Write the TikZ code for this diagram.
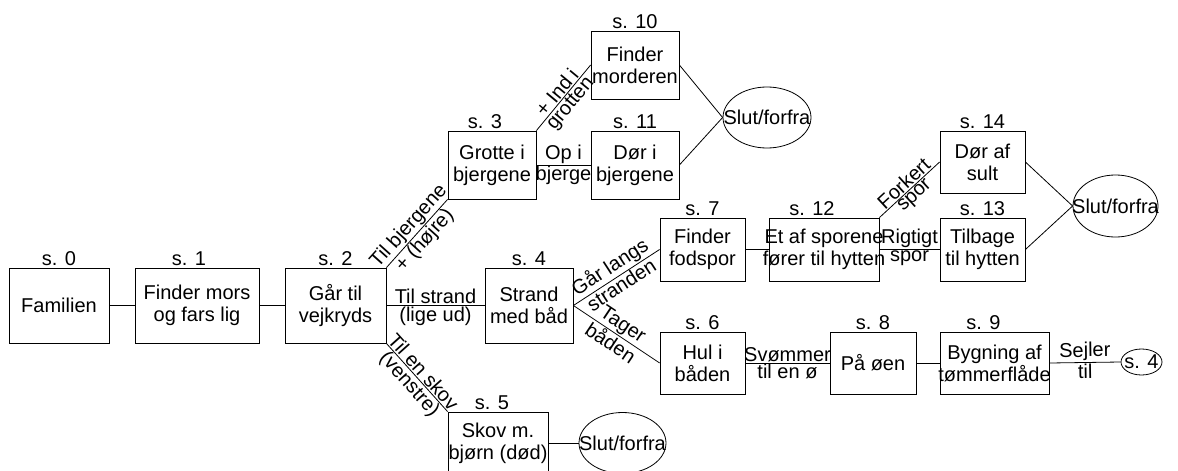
\documentclass[tikz,border=0pt]{standalone}
\usepackage{fontspec}
\setmainfont{Liberation Sans}
\usetikzlibrary{positioning,shapes.geometric}
\tikzset{
	box/.style={draw, rectangle, inner xsep=-12pt, inner ysep=0pt, align=center},
	slut/.style={draw, ellipse, inner xsep=-20pt, inner ysep=0pt},
	nr/.style={inner sep=0pt},
	over/.style={sloped, above, inner sep=1pt, align=center},
	under/.style={sloped, below, inner sep=1pt, align=center},
}

\begin{document}
\begin{tikzpicture}[x=1pt, y=-1pt, line width=0.8pt, font=\fontsize{20}{22}\selectfont]
			%%%%% START %%%%%
			\useasboundingbox (0, 0) rectangle (1178, 471);
			
			\node[box, minimum width=100, minimum height=75] (s0) at (59, 305.5) {Familien};
			\node[box, minimum width=124, minimum height=75] (s1) at (197, 305.5) {Finder mors\\og fars lig};
			\node[box, minimum width=101, minimum height=75] (s2) at (335.5, 305.5) {Går til\\vejkryds};
			\node[box, minimum width=88, minimum height=68] (s3) at (492, 165) {Grotte i\\bjergene};
			\node[box, minimum width=88, minimum height=75] (s4) at (529, 305.5) {Strand\\med båd};
			\node[box, minimum width=100, minimum height=62] (s5) at (498, 443) {Skov m.\\bjørn (død)};
			\node[box, minimum width=85, minimum height=62] (s6) at (702.5, 363) {Hul i\\båden};
			\node[box, minimum width=85, minimum height=63] (s7) at (702.5, 249.5) {Finder\\fodspor};
			\node[box, minimum width=86, minimum height=62] (s8) at (873, 363) {På øen};
			\node[box, minimum width=109, minimum height=62] (s9) at (994.5, 363) {Bygning af\\tømmerflåde};
			\node[box, minimum width=88, minimum height=68] (s10) at (635, 65) {Finder\\morderen};
			\node[box, minimum width=88, minimum height=68] (s11) at (635, 165) {Dør i\\bjergene};
			\node[box, minimum width=110, minimum height=63] (s12) at (824, 249.5) {Et af sporene\\fører til hytten};
			\node[box, minimum width=85, minimum height=63] (s13) at (982.5, 249.5) {Tilbage\\til hytten};
			\node[box, minimum width=85, minimum height=62] (s14) at (982.5, 162) {Dør af\\sult};
			
			\node[slut, minimum width=88, minimum height=61] (slut1) at (767, 117.5) {Slut/forfra};
			\node[slut, minimum width=87, minimum height=61] (slut2) at (622.5, 443) {Slut/forfra};
			\node[slut, minimum width=85, minimum height=62] (slut3) at (1115.5, 206) {Slut/forfra};
			\node[slut, inner xsep=-10pt, minimum width=41, minimum height=26] (igen) at (1141.5, 362) {s. 4};
			
			\node[nr, above=2pt of s0] (n0) {s. 0};
			\node[nr, above=2pt of s1, xshift=-8] (n1) {s. 1};
			\node[nr, above=2pt of s2] (n2) {s. 2};
			\node[nr, above=2pt of s3, xshift=-7] (n3) {s. 3};
			\node[nr, above=2pt of s4] (n4) {s. 4};
			\node[nr, above=2pt of s5, xshift=-6] (n5) {s. 5};
			\node[nr, above=2pt of s6] (n6) {s. 6};
			\node[nr, above=2pt of s7] (n7) {s. 7};
			\node[nr, above=2pt of s8] (n8) {s. 8};
			\node[nr, above=2pt of s9, xshift=-11] (n9) {s. 9};
			\node[nr, above=2pt of s10] (n10) {s. 10};
			\node[nr, above=2pt of s11] (n11) {s. 11};
			\node[nr, above=2pt of s12, xshift=-12] (n12) {s. 12};
			\node[nr, above=2pt of s13] (n13) {s. 13};
			\node[nr, above=2pt of s14] (n14) {s. 14};
			
			\draw (s0) -- (s1);
			\draw (s1) -- (s2);
			\draw (s2.north east) -- node[over] (v1) {Til bjergene} node[under] (v2) {+ (højre)} (s3.south west);
			\draw (s2.east) -- node[over] (v3) {Til strand} node[under] (v4) {(lige ud)} (s4.west);
			\draw (s2.south east) -- node[over] (v5) {Til en skov} node[under] (v6) {(venstre)} (s5.north west);
			
			\draw (s3.north east) -- node[over] (v7) {+ Ind i} node[under] (v8) {grotten} (s10.west);
			\draw (s3.east) -- node[over] (v9) {Op i} node[under] (v10) {bjerge} (s11.west);
			\draw (s10.east) -- (slut1.west);
			\draw (s11.east) -- (slut1.west);
			\draw (s5.east) -- (slut2.west);
			
			\draw (s4.east) -- node[over] (v11) {Går langs} node[under] (v12) {stranden} (s7.west);
			\draw (s4.east) -- node[over] (v13) {Tager} node[under] (v14) {båden} (s6.west);
			\draw (s7.east) -- (s12.west);
			\draw (s12.north east) -- node[over] (v15) {Forkert} node[under] (v16) {spor} (s14.west);
			\draw (s12.east) -- node[over] (v17) {Rigtigt} node[under] (v18) {spor} (s13.west);
			\draw (s14.east) -- (slut3.west);
			\draw (s13.east) -- (slut3.west);
			
			\draw (s6.east) -- node[over] (v19) {Svømmer} node[under] (v20) {til en ø} (s8.west);
			\draw (s8.east) -- (s9.west);
			\draw (s9.east) -- node[over] (v21) {Sejler} node[under] (v22) {til} (igen.west);
			
			%%%%% END %%%%%
\end{tikzpicture}
\end{document}
